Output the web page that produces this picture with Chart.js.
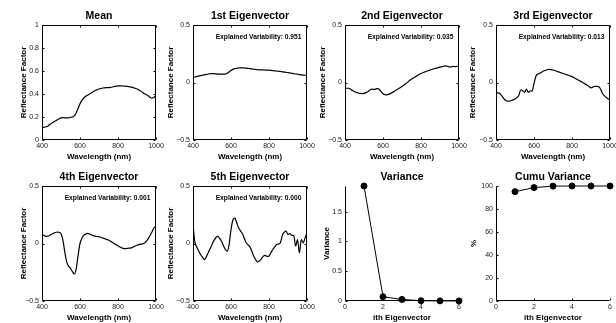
<!DOCTYPE html>
<html>
<head>
<meta charset="utf-8">
<script src="https://cdn.jsdelivr.net/npm/chart.js@4.4.0/dist/chart.umd.min.js"></script>
<style>
  body { margin: 0; width: 616px; height: 323px; overflow: hidden; background: #fff; position: relative; }
  canvas { position: absolute; }
</style>
</head>
<body>
<script>
const wavelength = [400,410,420,430,440,450,460,470,480,490,
  500,510,520,530,540,550,560,570,580,590,
  600,610,620,630,640,650,660,670,680,690,
  700,710,720,730,740,750,760,770,780,790,
  800,810,820,830,840,850,860,870,880,890,
  900,910,920,930,940,950,960,970,980,990,1000];

const meanSpectrum = [0.110,0.110,0.115,0.120,0.135,0.145,0.155,0.165,0.175,0.185,
  0.193,0.195,0.193,0.192,0.193,0.197,0.200,0.210,0.235,0.275,
  0.315,0.345,0.365,0.380,0.390,0.400,0.410,0.420,0.430,0.437,
  0.443,0.448,0.452,0.454,0.455,0.456,0.458,0.461,0.465,0.468,
  0.470,0.470,0.470,0.469,0.468,0.466,0.463,0.460,0.456,0.450,
  0.444,0.435,0.425,0.413,0.402,0.394,0.382,0.370,0.365,0.372,0.385];

const eigen1 = [0.043,0.048,0.052,0.056,0.060,0.063,0.067,0.071,0.074,0.076,
  0.078,0.077,0.075,0.073,0.072,0.072,0.072,0.073,0.080,0.092,
  0.105,0.114,0.120,0.123,0.125,0.127,0.127,0.126,0.125,0.123,
  0.120,0.118,0.115,0.113,0.111,0.110,0.109,0.109,0.108,0.108,
  0.107,0.105,0.103,0.101,0.100,0.098,0.096,0.093,0.091,0.088,
  0.086,0.083,0.080,0.077,0.074,0.072,0.069,0.066,0.064,0.063,0.063];

const eigen2 = [-0.052,-0.050,-0.050,-0.058,-0.070,-0.080,-0.086,-0.091,-0.095,-0.096,
  -0.095,-0.088,-0.080,-0.068,-0.058,-0.060,-0.058,-0.053,-0.058,-0.080,
  -0.098,-0.106,-0.107,-0.103,-0.095,-0.086,-0.076,-0.066,-0.056,-0.046,
  -0.035,-0.022,-0.010,0.003,0.017,0.030,0.040,0.050,0.060,0.070,
  0.078,0.085,0.092,0.098,0.104,0.110,0.115,0.120,0.125,0.129,
  0.133,0.137,0.141,0.144,0.140,0.135,0.137,0.140,0.138,0.141,0.138];

const eigen3 = [-0.090,-0.090,-0.095,-0.115,-0.137,-0.155,-0.163,-0.162,-0.157,-0.151,
  -0.143,-0.132,-0.114,-0.063,-0.071,-0.086,-0.057,-0.086,-0.074,-0.075,
  -0.010,0.055,0.073,0.080,0.090,0.100,0.106,0.111,0.114,0.112,
  0.109,0.104,0.098,0.092,0.086,0.080,0.074,0.069,0.063,0.057,
  0.051,0.043,0.033,0.024,0.015,0.006,-0.004,-0.014,-0.023,-0.035,
  -0.046,-0.040,-0.034,-0.034,-0.036,-0.057,-0.094,-0.115,-0.131,-0.142,-0.151];

const eigen4 = [0.085,0.070,0.062,0.064,0.070,0.080,0.088,0.096,0.100,0.097,
  0.085,0.030,-0.074,-0.160,-0.197,-0.215,-0.244,-0.265,-0.220,-0.103,
  0.000,0.045,0.070,0.082,0.088,0.083,0.074,0.068,0.064,0.061,
  0.059,0.054,0.048,0.042,0.036,0.030,0.020,0.010,0.000,-0.010,
  -0.020,-0.030,-0.038,-0.044,-0.045,-0.042,-0.040,-0.038,-0.030,-0.022,
  -0.015,-0.010,-0.006,-0.003,0.005,0.020,0.045,0.074,0.105,0.138,0.147];

const eigen5 = [0.165,0.010,-0.030,-0.065,-0.096,-0.120,-0.140,-0.116,-0.080,-0.045,
  -0.010,0.025,0.050,0.064,0.045,0.020,-0.018,-0.052,-0.067,-0.009,
  0.120,0.205,0.220,0.180,0.136,0.110,0.087,0.045,0.006,-0.012,
  -0.029,-0.070,-0.110,-0.140,-0.162,-0.150,-0.133,-0.110,-0.104,-0.112,
  -0.110,-0.080,-0.052,-0.030,-0.009,-0.005,0.006,0.070,0.099,0.107,
  0.078,0.087,0.070,0.070,-0.023,0.035,-0.081,0.035,0.006,0.049,0.093];

const eigenIndex = [1, 2, 3, 4, 5, 6];
const variance = [1.93, 0.071, 0.026, 0.004, 0.002, 0.001];
const cumuVariance = [95.1, 98.6, 99.9, 100, 100, 100];
const explained = ['0.951', '0.035', '0.013', '0.001', '0.000'];

const wavelengthTicks = [400, 600, 800, 1000];
const indexTicks = [0, 2, 4, 6];
const meanTicks = [0, 0.2, 0.4, 0.6, 0.8, 1];
const eigenTicks = [-0.5, 0, 0.5];
const varianceTicks = [0, 0.5, 1, 1.5];
const cumuTicks = [0, 20, 40, 60, 80, 100];

Chart.defaults.font.family = '"Liberation Sans", Arial, Helvetica, sans-serif';
Chart.defaults.color = '#000';

const fmt = v => (v < 0 ? '\u2212' + Math.abs(v) : String(v));

// matlab style: box around the axes, short ticks pointing inward
const matlabAxes = {
  id: 'matlabAxes',
  afterDatasetsDraw(chart, args, opts) {
    const { ctx, chartArea: a, scales: { x, y } } = chart;
    const L = Math.round(a.left) + 0.5, R = Math.round(a.right) - 0.5;
    const T = Math.round(a.top) + 0.5, B = Math.round(a.bottom) - 0.5;
    ctx.save();
    ctx.strokeStyle = '#000';
    ctx.lineWidth = 1;
    ctx.beginPath();
    if (opts.box) {
      ctx.rect(L, T, R - L, B - T);
    } else {
      ctx.moveTo(L, T);
      ctx.lineTo(L, B);
      ctx.lineTo(R, B);
    }
    x.ticks.forEach(t => {
      const px = Math.round(x.getPixelForValue(t.value)) + 0.5;
      ctx.moveTo(px, B); ctx.lineTo(px, B - 2);
      if (opts.box) { ctx.moveTo(px, T); ctx.lineTo(px, T + 2); }
    });
    y.ticks.forEach(t => {
      const py = Math.round(y.getPixelForValue(t.value)) + 0.5;
      ctx.moveTo(L, py); ctx.lineTo(L + 2, py);
      if (opts.box) { ctx.moveTo(R, py); ctx.lineTo(R - 2, py); }
    });
    ctx.stroke();
    if (opts.note) {
      ctx.fillStyle = '#000';
      ctx.font = 'bold 6.7px "Liberation Sans", Arial, sans-serif';
      ctx.textAlign = 'right';
      ctx.textBaseline = 'middle';
      ctx.fillText('Explained Variability: ' + opts.note, a.right - 5.5, a.top + 12);
    }
    ctx.restore();
  }
};

const spectrum = { xs: wavelength, xmin: 400, xmax: 1000, xt: wavelengthTicks, xlabel: 'Wavelength (nm)', ylabel: 'Reflectance Factor', box: true };
const eigenAxes = Object.assign({}, spectrum, { ymin: -0.5, ymax: 0.5, yt: eigenTicks, ylabelGap: 22.5 });

const panels = [
  Object.assign({}, spectrum, { left: 2, top: 0, title: 'Mean', ys: meanSpectrum, ymin: 0, ymax: 1, yt: meanTicks, ylabelGap: 18.7 }),
  Object.assign({}, eigenAxes, { left: 153, top: 0, title: '1st Eigenvector', ys: eigen1, note: explained[0] }),
  Object.assign({}, eigenAxes, { left: 305, top: 0, title: '2nd Eigenvector', ys: eigen2, note: explained[1] }),
  Object.assign({}, eigenAxes, { left: 456, top: 0, title: '3rd Eigenvector', ys: eigen3, note: explained[2], ylabelGap: 23.3 }),
  Object.assign({}, eigenAxes, { left: 2, top: 161, title: '4th Eigenvector', ys: eigen4, note: explained[3], ylabelGap: 18.7 }),
  Object.assign({}, eigenAxes, { left: 153, top: 161, title: '5th Eigenvector', ys: eigen5, note: explained[4] }),
  { left: 305, top: 161, title: 'Variance', xs: eigenIndex, ys: variance, xmin: 0, xmax: 6, xt: indexTicks,
    ymin: 0, ymax: 1.93, yt: varianceTicks, xlabel: 'ith Eigenvector', ylabel: 'Variance', ylabelGap: 18.7, box: false, markers: true },
  { left: 456, top: 161, title: 'Cumu Variance', xs: eigenIndex, ys: cumuVariance, xmin: 0, xmax: 6, xt: indexTicks,
    ymin: 0, ymax: 100, yt: cumuTicks, xlabel: 'ith Eigenvector', ylabel: '%', ylabelGap: 22.4, box: false, markers: true }
];

panels.forEach(p => {
  const canvas = document.createElement('canvas');
  canvas.width = 166;
  canvas.height = 162;
  canvas.style.left = p.left + 'px';
  canvas.style.top = p.top + 'px';
  document.body.appendChild(canvas);

  new Chart(canvas, {
    type: 'line',
    data: {
      datasets: [{
        data: p.xs.map((x, i) => ({ x, y: p.ys[i] })),
        borderColor: '#000',
        borderWidth: p.markers ? 1 : 1.2,
        pointRadius: p.markers ? 3 : 0,
        pointBackgroundColor: '#000',
        pointBorderColor: '#000',
        cubicInterpolationMode: p.markers ? 'default' : 'monotone',
        clip: p.markers ? false : 0
      }]
    },
    options: {
      responsive: false,
      animation: false,
      devicePixelRatio: 1,
      layout: { padding: { left: 0, right: 12, top: 0, bottom: 0 } },
      plugins: {
        legend: { display: false },
        tooltip: { enabled: false },
        title: {
          display: true, text: p.title, fullSize: false, color: '#000',
          font: { size: 10.5, weight: 'bold', lineHeight: '12px' },
          padding: { top: 10, bottom: 3 }
        },
        matlabAxes: { box: p.box, note: p.note }
      },
      scales: {
        x: {
          type: 'linear', min: p.xmin, max: p.xmax,
          afterBuildTicks: s => { s.ticks = p.xt.map(value => ({ value })); },
          afterFit: s => { s.height = 22; },
          grid: { display: false, drawTicks: false },
          border: { display: false },
          ticks: { font: { size: 7 }, color: '#222', padding: 1.5, maxRotation: 0, autoSkip: false, callback: fmt },
          title: { display: true, text: p.xlabel, color: '#000', font: { size: 8, weight: 'bold', lineHeight: '9px' }, padding: { top: 0, bottom: 1 } }
        },
        y: {
          type: 'linear', min: p.ymin, max: p.ymax,
          afterBuildTicks: s => { s.ticks = p.yt.map(value => ({ value })); },
          afterFit: s => { s.width = 40; },
          grid: { display: false, drawTicks: false },
          border: { display: false },
          ticks: { font: { size: 7 }, color: '#222', padding: 3, autoSkip: false, callback: fmt },
          title: { display: true, text: p.ylabel, color: '#000', font: { size: 8, weight: 'bold', lineHeight: '9px' }, padding: { top: 40 - p.ylabelGap - 4.5, bottom: 0 } }
        }
      }
    },
    plugins: [matlabAxes]
  });
});
</script>
</body>
</html>
